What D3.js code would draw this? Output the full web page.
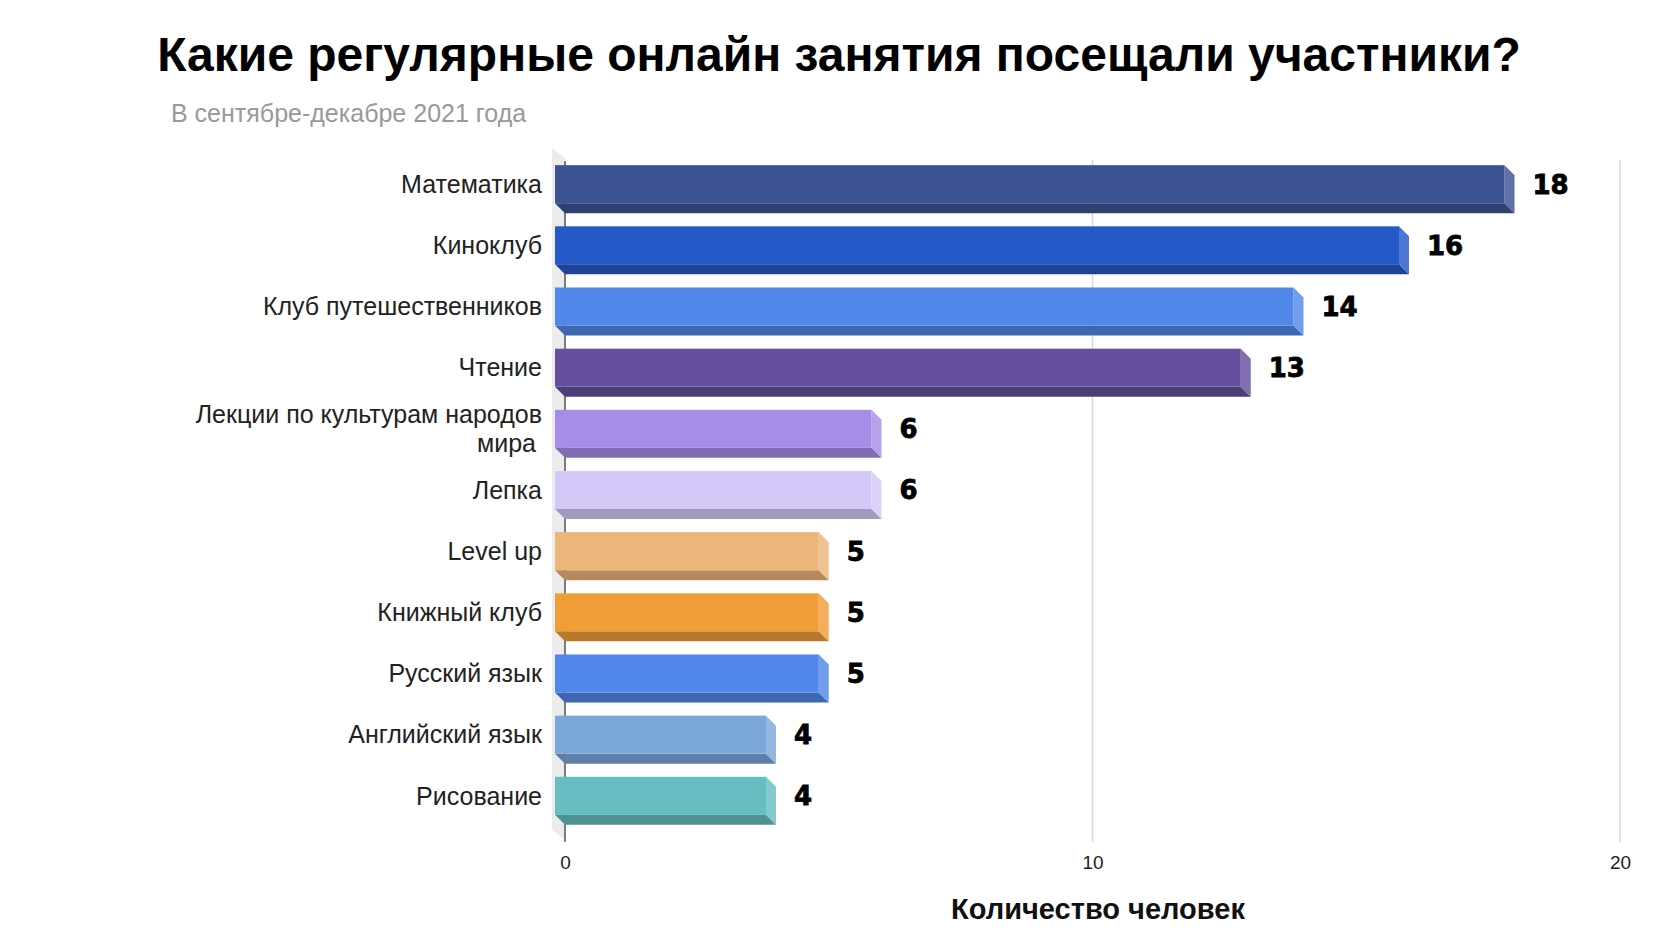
<!DOCTYPE html>
<html>
<head>
<meta charset="utf-8">
<script src="https://cdn.jsdelivr.net/npm/d3@7"></script>
<style>
  html, body { margin: 0; padding: 0; background: #ffffff; }
  svg { display: block; }
</style>
</head>
<body>
<svg id="chart" width="1680" height="943"></svg>
<script>
// ---- data ----
const categories = [
  "Математика",
  "Киноклуб",
  "Клуб путешественников",
  "Чтение",
  "Лекции по культурам народов мира",
  "Лепка",
  "Level up",
  "Книжный клуб",
  "Русский язык",
  "Английский язык",
  "Рисование"
];
const values = [18, 16, 14, 13, 6, 6, 5, 5, 5, 4, 4];
const barColors = [
  "#3d5291", "#2659c8", "#5087e8", "#64509e", "#a68ee8", "#d4c8f8",
  "#ebb679", "#f09e38", "#5087e8", "#7ba7d9", "#68bdc2"
];
const xTicks = [0, 10, 20];
const titleText = "Какие регулярные онлайн занятия посещали участники?";
const subtitleText = "В сентябре-декабре 2021 года";
const xAxisTitle = "Количество человек";

// ---- layout ----
const svg = d3.select("#chart");
const FONT = "'Liberation Sans', Arial, sans-serif";
const depthX = 10, depthY = 10;
const plotTop = 150, plotBottom = 840;

const x = d3.scaleLinear().domain([0, 20]).range([565, 1620]);
const y = d3.scaleBand().domain(categories).range([plotTop, plotBottom])
  .paddingInner(0.215).paddingOuter(0.248);

// title
svg.append("text")
  .attr("x", 839).attr("y", 71)
  .attr("text-anchor", "middle")
  .attr("font-family", FONT).attr("font-weight", "bold")
  .attr("font-size", 48).attr("fill", "#000")
  .text(titleText);

svg.append("text")
  .attr("x", 171).attr("y", 122)
  .attr("font-family", FONT)
  .attr("font-size", 25).attr("fill", "#999999")
  .text(subtitleText);

// side wall (3D left plane)
const wallTop = plotTop - 2, wallBottom = plotBottom - 10;
svg.append("path")
  .attr("d", `M${x(0) - depthX - 3},${wallTop} L${x(0)},${wallTop + depthY} L${x(0)},${wallBottom + depthY} L${x(0) - depthX - 3},${wallBottom} Z`)
  .attr("fill", "#ececec");

// gridlines
svg.append("g").selectAll("line")
  .data(xTicks.filter(t => t !== 0))
  .join("line")
  .attr("x1", d => x(d)).attr("x2", d => x(d))
  .attr("y1", plotTop + 10).attr("y2", plotBottom + 2)
  .attr("stroke", "#d9d9d9").attr("stroke-width", 1.5);

// axis line at zero
svg.append("line")
  .attr("x1", x(0)).attr("x2", x(0))
  .attr("y1", plotTop + 11).attr("y2", plotBottom + 2)
  .attr("stroke", "#555").attr("stroke-width", 1.5);

// x axis ticks labels via d3 axis
const xAxis = d3.axisBottom(x).tickValues(xTicks).tickSize(0).tickPadding(0);
const gx = svg.append("g").attr("transform", `translate(0, ${plotBottom + 15})`).call(xAxis);
gx.select(".domain").remove();
gx.selectAll("text")
  .attr("font-family", FONT).attr("font-size", 19).attr("fill", "#222")
  .attr("dy", "0.71em");

// bars
const bars = svg.append("g").selectAll("g.bar")
  .data(categories.map((c, i) => ({ c, v: values[i], col: barColors[i] })))
  .join("g").attr("class", "bar");

bars.each(function(d) {
  const g = d3.select(this);
  const bx0 = x(0), bx1 = x(d.v);
  const by0 = y(d.c) + depthY, by1 = y(d.c) + y.bandwidth();   // back plane
  const fx0 = bx0 - depthX, fx1 = bx1 - depthX;
  const fy0 = by0 - depthY, fy1 = by1 - depthY;                 // front plane
  const base = d3.color(d.col);
  // bottom face
  g.append("path")
    .attr("d", `M${fx0},${fy1} L${fx1},${fy1} L${bx1},${by1} L${bx0},${by1} Z`)
    .attr("fill", base.darker(0.75));
  // right side face
  g.append("path")
    .attr("d", `M${fx1},${fy0} L${bx1},${by0} L${bx1},${by1} L${fx1},${fy1} Z`)
    .attr("fill", d3.interpolateRgb(d.col, "#ffffff")(0.18));
  // front face
  g.append("rect")
    .attr("x", fx0).attr("y", fy0)
    .attr("width", fx1 - fx0).attr("height", fy1 - fy0)
    .attr("fill", d.col);
  // value label
  g.append("text")
    .attr("x", bx1 + 18).attr("y", (fy0 + fy1) / 2)
    .attr("dy", "0.36em")
    .attr("font-family", "'DejaVu Sans', sans-serif").attr("font-weight", "bold")
    .attr("font-size", 26).attr("fill", "#000")
    .attr("stroke", "#000").attr("stroke-width", 0.8)
    .text(d.v);
});

// category labels (left)
const labelX = 542;
const wrapMap = { "Лекции по культурам народов мира": ["Лекции по культурам народов", "мира"] };
categories.forEach(c => {
  const cy = y(c) + (y.bandwidth() - depthY) / 2;
  const lines = wrapMap[c] || [c];
  const lh = 29;
  const t = svg.append("text")
    .attr("text-anchor", "end")
    .attr("font-family", FONT).attr("font-size", 25).attr("fill", "#222");
  lines.forEach((ln, k) => {
    t.append("tspan")
      .attr("x", k === 0 ? labelX : labelX - 6)
      .attr("y", cy + (k - (lines.length - 1) / 2) * lh)
      .attr("dy", "0.35em")
      .text(ln);
  });
});

// x axis title
svg.append("text")
  .attr("x", 1098).attr("y", 919)
  .attr("text-anchor", "middle")
  .attr("font-family", FONT).attr("font-weight", "bold")
  .attr("font-size", 29).attr("fill", "#111")
  .text(xAxisTitle);
</script>
</body>
</html>
